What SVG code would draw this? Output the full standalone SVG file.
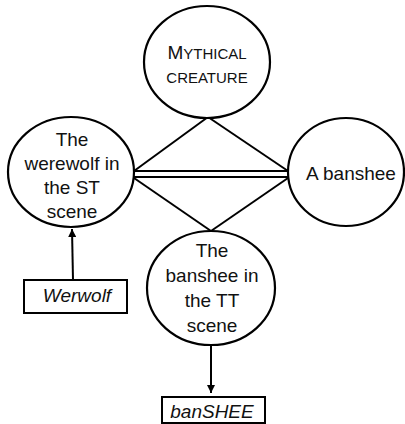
<svg xmlns="http://www.w3.org/2000/svg" width="405" height="424" viewBox="0 0 405 424">
<defs>
<style>
.node ellipse{fill:#fff;stroke:#000;stroke-width:2.2}
.box rect{fill:#fff;stroke:#000;stroke-width:2}
text{font-family:"Liberation Sans",Arial,sans-serif;font-size:19px;fill:#111;text-anchor:middle}
.it{font-style:italic}
.sc{font-size:15px}
.edges line{stroke:#000;stroke-width:2}
.arr{stroke:#000;stroke-width:1.5;fill:none}
</style>
<marker id="ah" viewBox="0 0 10 10" refX="10" refY="5" markerWidth="8" markerHeight="8" markerUnits="userSpaceOnUse" orient="auto">
<path d="M0,0 L10,5 L0,10 z" fill="#000"/>
</marker>
</defs>
<rect width="405" height="424" fill="#fff"/>
<g id="edges" class="edges">
<line x1="208" y1="117" x2="134" y2="171"/>
<line x1="208" y1="117" x2="288" y2="171"/>
<line x1="134" y1="178" x2="211" y2="231"/>
<line x1="288" y1="178" x2="211" y2="231"/>
<line x1="134" y1="171" x2="288" y2="171"/>
<line x1="134" y1="177" x2="288" y2="177"/>
<line class="arr" x1="73" y1="280" x2="72" y2="229" marker-end="url(#ah)"/>
<line class="arr" x1="211" y1="345" x2="211" y2="393" marker-end="url(#ah)"/>
</g>
<g id="mythical" class="node">
<ellipse cx="207" cy="62" rx="63" ry="56"/>
<text x="207" y="59"><tspan>M</tspan><tspan class="sc">YTHICAL</tspan></text>
<text x="207" y="83" class="sc">CREATURE</text>
</g>
<g id="werewolf" class="node">
<ellipse cx="71" cy="172" rx="63" ry="55"/>
<text x="72" y="146">The</text>
<text x="72" y="170">werewolf in</text>
<text x="72" y="194">the ST</text>
<text x="72" y="218">scene</text>
</g>
<g id="banshee" class="node">
<ellipse cx="346" cy="172" rx="58" ry="54"/>
<text x="351" y="180">A banshee</text>
</g>
<g id="bansheeTT" class="node">
<ellipse cx="211" cy="288" rx="64" ry="57"/>
<text x="212" y="257">The</text>
<text x="212" y="282">banshee in</text>
<text x="212" y="307">the TT</text>
<text x="212" y="332">scene</text>
</g>
<g id="werwolfBox" class="box">
<rect x="24" y="280" width="103" height="33"/>
<text x="77" y="302" class="it">Werwolf</text>
</g>
<g id="bansheeBox" class="box">
<rect x="162" y="397" width="103" height="26"/>
<text x="212" y="418" class="it">banSHEE</text>
</g>
</svg>
